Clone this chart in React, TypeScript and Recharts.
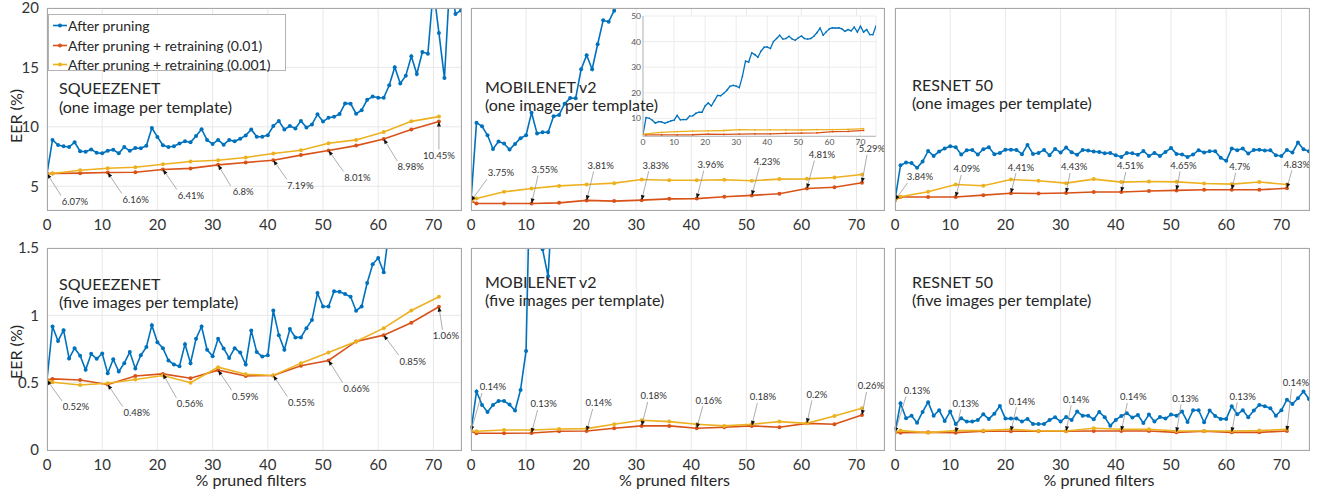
import React from "react";
import { LineChart, Line, XAxis, YAxis, CartesianGrid, ReferenceDot } from "recharts";

const FONT = "Lato, 'Open Sans', sans-serif";
const BLUE = "#0072BD";
const RED = "#D95319";
const YELLOW = "#EDB120";
const TEXT = "#262626";

// x positions
const pruneSteps = Array.from({ length: 76 }, (_, i) => i);
const retrainX = [0, 1, 6, 11, 16, 21, 26, 31, 36, 41, 46, 51, 56, 61, 66, 71];
const annoX = [0, 11, 21, 31, 41, 51, 61, 71];
const xTicks = [0, 10, 20, 30, 40, 50, 60, 70];
const topYTicks = [5, 10, 15, 20];
const bottomYTicks = [0, 0.5, 1, 1.5];
const insetYTicks = [10, 20, 30, 40, 50];

const legendNames = ["After pruning", "After pruning + retraining (0.01)", "After pruning + retraining (0.001)"];

// SQUEEZENET, one image per template
const sqOneBlue = [6.07, 8.9, 8.47, 8.36, 8.3, 8.7, 7.95, 7.9, 8.1, 7.82, 7.77, 7.98, 8.08, 7.77, 8.3, 7.98, 8.22, 8.2, 8.4, 9.9, 9.15, 8.45, 8.3, 8.36, 8.6, 8.78, 8.7, 9.22, 9.8, 8.9, 8.55, 8.9, 8.5, 8.9, 8.78, 9.0, 9.28, 9.78, 9.17, 9.17, 9.3, 10.07, 10.49, 9.78, 10.07, 9.86, 10.5, 9.95, 10.2, 11.05, 10.44, 10.77, 10.85, 11.07, 11.97, 11.95, 11.1, 11.4, 12.27, 12.55, 12.45, 12.45, 13.5, 15.02, 13.65, 14.3, 15.94, 14.45, 16.3, 16.15, 21.65, 17.9, 14.1, 22.5, 19.5, 19.8];
const sqOneRed = [6.07, 6.07, 6.1, 6.16, 6.18, 6.41, 6.5, 6.8, 7.0, 7.19, 7.62, 8.01, 8.42, 8.98, 9.77, 10.45];
const sqOneYellow = [6.07, 6.07, 6.35, 6.52, 6.6, 6.85, 7.08, 7.19, 7.42, 7.75, 8.03, 8.62, 8.9, 9.57, 10.46, 10.86];
const sqOneLabels = ["6.07%", "6.16%", "6.41%", "6.8%", "7.19%", "8.01%", "8.98%", "10.45%"];

// MOBILENET v2, one image per template
const mbOneBlue = [3.78, 10.35, 10.04, 9.29, 8.14, 8.76, 8.59, 8.09, 8.56, 9.04, 9.29, 11.19, 9.43, 9.54, 9.54, 10.9, 11.0, 11.95, 12.42, 12.4, 14.85, 16.02, 14.85, 16.95, 18.96, 18.85, 19.77, 21.0, 22.5, 22.9, 22.6, 22.0, 26.4, 32.4, 32.0, 35.6, 34.9, 33.9, 36.3, 37.8, 37.9, 37.3, 40.0, 41.2, 42.5, 41.0, 41.2, 42.1, 41.0, 40.5, 41.5, 42.2, 41.2, 41.0, 41.2, 42.1, 43.5, 45.3, 42.5, 43.8, 45.0, 45.4, 45.3, 45.4, 45.0, 44.0, 44.7, 44.2, 45.7, 43.7, 46.0, 43.7, 44.7, 42.7, 42.7, 46.1];
const mbOneRed = [3.75, 3.55, 3.55, 3.55, 3.6, 3.81, 3.75, 3.83, 3.94, 3.96, 4.11, 4.23, 4.37, 4.81, 4.92, 5.29];
const mbOneYellow = [3.75, 3.97, 4.53, 4.81, 5.03, 5.14, 5.26, 5.57, 5.51, 5.51, 5.54, 5.46, 5.6, 5.62, 5.74, 5.99];
const mbOneLabels = ["3.75%", "3.55%", "3.81%", "3.83%", "3.96%", "4.23%", "4.81%", "5.29%"];

// RESNET 50, one image per template
const rnOneBlue = [3.84, 6.77, 7.0, 6.95, 6.55, 7.08, 7.97, 7.55, 7.92, 8.17, 8.37, 8.29, 7.67, 8.03, 8.06, 7.67, 8.11, 8.29, 7.7, 7.8, 8.08, 8.08, 8.06, 7.7, 8.48, 7.72, 7.8, 8.06, 7.61, 8.14, 7.83, 8.25, 7.86, 7.64, 8.06, 8.0, 7.92, 7.89, 7.78, 7.8, 7.61, 7.47, 7.8, 7.78, 7.64, 7.97, 7.55, 7.8, 7.55, 7.89, 8.22, 7.72, 7.67, 7.47, 7.67, 8.03, 7.83, 7.94, 7.94, 7.39, 7.14, 8.17, 8.03, 8.17, 7.75, 8.06, 8.08, 8.0, 8.03, 7.61, 7.55, 8.06, 7.83, 8.68, 8.11, 7.94];
const rnOneRed = [3.84, 4.09, 4.09, 4.09, 4.25, 4.41, 4.39, 4.43, 4.52, 4.51, 4.6, 4.65, 4.7, 4.7, 4.7, 4.83];
const rnOneYellow = [3.84, 4.12, 4.53, 5.15, 5.04, 5.57, 5.46, 5.26, 5.6, 5.35, 5.4, 5.37, 5.23, 5.18, 5.35, 5.15];
const rnOneLabels = ["3.84%", "4.09%", "4.41%", "4.43%", "4.51%", "4.65%", "4.7%", "4.83%"];

// SQUEEZENET, five images per template
const sqFiveBlue = [0.52, 0.917, 0.81, 0.89, 0.68, 0.756, 0.7, 0.595, 0.714, 0.677, 0.717, 0.57, 0.674, 0.583, 0.645, 0.727, 0.605, 0.704, 0.764, 0.927, 0.8, 0.756, 0.665, 0.635, 0.622, 0.786, 0.645, 0.826, 0.917, 0.744, 0.697, 0.826, 0.754, 0.684, 0.756, 0.724, 0.635, 0.888, 0.727, 0.694, 0.704, 1.036, 0.853, 0.744, 0.898, 0.836, 0.836, 0.905, 0.965, 1.165, 1.066, 1.066, 1.178, 1.175, 1.158, 1.138, 1.034, 1.066, 1.24, 1.379, 1.426, 1.32, 1.64, 1.95, 1.78, 1.86, 2.05, 1.9, 2.1, 2.1, 2.6, 2.3, 1.85, 2.7, 2.5, 2.5];
const sqFiveRed = [0.52, 0.528, 0.52, 0.486, 0.55, 0.565, 0.533, 0.593, 0.55, 0.553, 0.625, 0.665, 0.806, 0.853, 0.945, 1.064];
const sqFiveYellow = [0.52, 0.503, 0.483, 0.496, 0.523, 0.553, 0.5, 0.615, 0.563, 0.553, 0.645, 0.724, 0.806, 0.905, 1.036, 1.138];
const sqFiveLabels = ["0.52%", "0.48%", "0.56%", "0.59%", "0.55%", "0.66%", "0.85%", "1.06%"];

// MOBILENET v2, five images per template
const mbFiveBlue = [0.141, 0.434, 0.335, 0.283, 0.335, 0.364, 0.364, 0.337, 0.293, 0.446, 0.736, 2.6, 2.2, 1.49, 1.29, 2.0, 2.5, 3.0];
const mbFiveRed = [0.141, 0.124, 0.124, 0.126, 0.139, 0.141, 0.161, 0.179, 0.179, 0.161, 0.169, 0.179, 0.169, 0.198, 0.191, 0.26];
const mbFiveYellow = [0.141, 0.139, 0.149, 0.149, 0.156, 0.159, 0.191, 0.221, 0.211, 0.191, 0.179, 0.191, 0.211, 0.198, 0.253, 0.31];
const mbFiveLabels = ["0.14%", "0.13%", "0.14%", "0.18%", "0.16%", "0.18%", "0.2%", "0.26%"];

// RESNET 50, five images per template
const rnFiveBlue = [0.131, 0.347, 0.236, 0.255, 0.203, 0.283, 0.355, 0.255, 0.295, 0.216, 0.285, 0.193, 0.236, 0.211, 0.211, 0.223, 0.265, 0.231, 0.27, 0.327, 0.233, 0.233, 0.233, 0.211, 0.231, 0.193, 0.193, 0.193, 0.223, 0.243, 0.211, 0.245, 0.223, 0.285, 0.255, 0.255, 0.228, 0.283, 0.243, 0.181, 0.223, 0.253, 0.273, 0.241, 0.26, 0.2, 0.263, 0.211, 0.245, 0.233, 0.263, 0.255, 0.285, 0.208, 0.295, 0.295, 0.206, 0.293, 0.253, 0.231, 0.231, 0.325, 0.265, 0.295, 0.243, 0.293, 0.335, 0.325, 0.31, 0.255, 0.295, 0.374, 0.342, 0.384, 0.434, 0.379];
const rnFiveRed = [0.131, 0.129, 0.131, 0.129, 0.139, 0.139, 0.139, 0.139, 0.141, 0.141, 0.141, 0.131, 0.139, 0.131, 0.131, 0.141];
const rnFiveYellow = [0.131, 0.144, 0.129, 0.144, 0.144, 0.154, 0.141, 0.141, 0.161, 0.154, 0.154, 0.141, 0.141, 0.141, 0.144, 0.154];
const rnFiveLabels = ["0.13%", "0.13%", "0.14%", "0.14%", "0.14%", "0.13%", "0.13%", "0.14%"];

// label offsets (px) from the annotated point
const offBelow = [[28, 28], [28, 27], [28, 26], [25, 27], [27, 25], [29, 27], [27, 28], [0, 34]];
const offMbOne = [[30, -28], [13, -34], [14, -35], [14, -35], [14, -34], [15, -34], [15, -34], [10, -34]];
const offRnOne = [[25, -23], [11, -28], [10, -26], [8, -26], [9, -26], [7, -25], [8, -23], [10, -24]];
const offSqFive = [[29, 27], [29, 28], [27, 30], [27, 26], [28, 27], [28, 28], [29, 26], [7, 29]];
const offMbFive = [[22, -44], [12, -29], [12, -28], [12, -30], [12, -28], [11, -29], [10, -29], [9, -29]];
const offRnFive = [[22, -42], [10, -29], [11, -30], [10, -32], [12, -34], [9, -34], [11, -36], [9, -48]];

const buildRows = (blue: number[], red: number[], yellow: number[]) =>
  pruneSteps.map((x) => {
    const k = retrainX.indexOf(x);
    return {
      x,
      blue: x < blue.length ? blue[x] : null,
      red: k >= 0 ? red[k] : null,
      yellow: k >= 0 ? yellow[k] : null,
    };
  });

const PLOT_H = 202;
const Y_W = 47;
const M_TOP = 12;
const M_RIGHT = 24;

const Annotation = ({ cx, cy, text, dx, dy }: any) => {
  const tx = cx + dx;
  const ty = cy + dy;
  const ax = tx - Math.min(Math.abs(dx) * 0.5, 14);
  const ay = ty - Math.sign(dy) * 6;
  const ang = Math.atan2(cy - ay, cx - ax);
  const hl = 5;
  const hw = 2;
  const bx = cx - hl * Math.cos(ang);
  const by = cy - hl * Math.sin(ang);
  const px = -Math.sin(ang) * hw;
  const py = Math.cos(ang) * hw;
  return (
    <g>
      <line x1={ax} y1={ay} x2={bx} y2={by} stroke="#8a8a8a" strokeWidth={0.7} />
      <polygon points={`${cx},${cy} ${bx + px},${by + py} ${bx - px},${by - py}`} fill="#111" />
      <text x={tx} y={ty + 3.4} textAnchor="middle" fontSize={9.5} fill="#333" fontFamily={FONT}>
        {text}
      </text>
    </g>
  );
};

interface PanelProps {
  left: number;
  top: number;
  width: number;
  blue: number[];
  red: number[];
  yellow: number[];
  yDomain: [number, number];
  yTicks: number[];
  showY: boolean;
  labels: string[];
  offsets: number[][];
  axisH: number;
}

const Panel = (p: PanelProps) => {
  const rows = buildRows(p.blue, p.red, p.yellow);
  const tick = { fontSize: 15, fill: "#333", fontFamily: FONT };
  return (
    <div style={{ position: "absolute", left: p.left - Y_W, top: p.top - M_TOP }}>
      <LineChart
        width={Y_W + p.width + M_RIGHT}
        height={M_TOP + PLOT_H + p.axisH}
        data={rows}
        margin={{ top: M_TOP, right: M_RIGHT, left: 0, bottom: 0 }}
      >
        <CartesianGrid stroke="#e8e8e8" />
        <XAxis
          dataKey="x"
          type="number"
          domain={[0, 75]}
          ticks={xTicks}
          interval={0}
          allowDataOverflow
          tickLine={false}
          axisLine={false}
          tickSize={0}
          tickMargin={9}
          height={p.axisH}
          tick={tick}
        />
        <YAxis
          type="number"
          domain={p.yDomain}
          ticks={p.yTicks}
          interval={0}
          allowDataOverflow
          width={Y_W}
          tickLine={false}
          axisLine={false}
          tickSize={0}
          tickMargin={8}
          tick={p.showY ? tick : false}
        />
        <Line dataKey="blue" stroke={BLUE} strokeWidth={1.6} dot={{ r: 2, fill: BLUE, stroke: BLUE, strokeWidth: 0 }} isAnimationActive={false} />
        <Line dataKey="red" connectNulls stroke={RED} strokeWidth={1.6} dot={{ r: 2, fill: RED, stroke: RED, strokeWidth: 0 }} isAnimationActive={false} />
        <Line dataKey="yellow" connectNulls stroke={YELLOW} strokeWidth={1.6} dot={{ r: 2, fill: YELLOW, stroke: YELLOW, strokeWidth: 0 }} isAnimationActive={false} />
        {annoX.map((ax, i) => (
          <ReferenceDot
            key={ax}
            x={ax}
            y={p.red[retrainX.indexOf(ax)]}
            r={0}
            ifOverflow="visible"
            shape={(s: any) => <Annotation cx={s.cx} cy={s.cy} text={p.labels[i]} dx={p.offsets[i][0]} dy={p.offsets[i][1]} />}
          />
        ))}
      </LineChart>
    </div>
  );
};

const Box = ({ left, top, width }: { left: number; top: number; width: number }) => (
  <div
    style={{
      position: "absolute",
      left: left - 0.5,
      top: top - 0.5,
      width: width + 1,
      height: PLOT_H + 1,
      boxSizing: "border-box",
      border: "1px solid #a8a8a8",
      pointerEvents: "none",
    }}
  />
);

const Inset = () => {
  const rows = buildRows(mbOneBlue, mbOneRed, mbOneYellow);
  const tick = { fontSize: 8.5, fill: "#555", fontFamily: FONT };
  return (
    <div style={{ position: "absolute", left: 643.3 - 20, top: 15.7 - 6 }}>
      <LineChart width={20 + 233 + 6} height={6 + 120.3 + 14} data={rows} margin={{ top: 6, right: 6, left: 0, bottom: 0 }}>
        <CartesianGrid fill="#fff" fillOpacity={1} stroke="#ececec" />
        <XAxis
          dataKey="x"
          type="number"
          domain={[0, 75]}
          ticks={xTicks}
          interval={0}
          allowDataOverflow
          tickLine={false}
          axisLine={{ stroke: "#b8b8b8" }}
          tickSize={0}
          tickMargin={3}
          height={14}
          tick={tick}
        />
        <YAxis
          type="number"
          domain={[3, 50]}
          ticks={insetYTicks}
          interval={0}
          allowDataOverflow
          width={20}
          tickLine={false}
          axisLine={{ stroke: "#b8b8b8" }}
          tickSize={0}
          tickMargin={2}
          tick={tick}
        />
        <Line dataKey="blue" stroke={BLUE} strokeWidth={1.3} dot={{ r: 0.8, fill: BLUE, stroke: BLUE, strokeWidth: 0 }} isAnimationActive={false} />
        <Line dataKey="red" connectNulls stroke={RED} strokeWidth={1.3} dot={{ r: 0.9, fill: RED, stroke: RED, strokeWidth: 0 }} isAnimationActive={false} />
        <Line dataKey="yellow" connectNulls stroke={YELLOW} strokeWidth={1.3} dot={{ r: 0.9, fill: YELLOW, stroke: YELLOW, strokeWidth: 0 }} isAnimationActive={false} />
      </LineChart>
    </div>
  );
};

const legendColors = [BLUE, RED, YELLOW];

const Legend = () => (
  <div
    style={{
      position: "absolute",
      left: 48,
      top: 14,
      width: 238,
      height: 57,
      boxSizing: "border-box",
      border: "1px solid #b4b4b4",
      background: "#fff",
      fontFamily: FONT,
      fontSize: 14,
      color: TEXT,
    }}
  >
    {legendNames.map((name, i) => (
      <div key={name} style={{ position: "absolute", left: 4, top: 1.2 + i * 19.3, height: 19, display: "flex", alignItems: "center" }}>
        <svg width={14} height={19}>
          <line x1={0} y1={9.5} x2={14} y2={9.5} stroke={legendColors[i]} strokeWidth={1.6} />
          <circle cx={7} cy={9.5} r={2} fill={legendColors[i]} />
        </svg>
        <span style={{ marginLeft: 1, whiteSpace: "nowrap" }}>{name}</span>
      </div>
    ))}
  </div>
);

const titles = [
  { x: 59, y: 94.3, a: "SQUEEZENET", b: "(one image per template)" },
  { x: 485, y: 92.7, a: "MOBILENET v2", b: "(one image per template)" },
  { x: 912, y: 91, a: "RESNET 50", b: "(one images per template)" },
  { x: 59, y: 290, a: "SQUEEZENET", b: "(five images per template)" },
  { x: 485, y: 288, a: "MOBILENET v2", b: "(five images per template)" },
  { x: 912, y: 288, a: "RESNET 50", b: "(five images per template)" },
];

const cols = [
  { left: 47, width: 414 },
  { left: 471, width: 413 },
  { left: 895, width: 414 },
];
const rowTops = [8, 248];

export default function App() {
  return (
    <div style={{ position: "absolute", left: 0, top: 0, width: 1319, height: 496, background: "#fff", overflow: "hidden" }}>
      <Panel left={cols[0].left} top={rowTops[0]} width={cols[0].width} blue={sqOneBlue} red={sqOneRed} yellow={sqOneYellow} yDomain={[3, 20]} yTicks={topYTicks} showY labels={sqOneLabels} offsets={offBelow} axisH={34} />
      <Panel left={cols[1].left} top={rowTops[0]} width={cols[1].width} blue={mbOneBlue} red={mbOneRed} yellow={mbOneYellow} yDomain={[3, 20]} yTicks={topYTicks} showY={false} labels={mbOneLabels} offsets={offMbOne} axisH={34} />
      <Panel left={cols[2].left} top={rowTops[0]} width={cols[2].width} blue={rnOneBlue} red={rnOneRed} yellow={rnOneYellow} yDomain={[3, 20]} yTicks={topYTicks} showY={false} labels={rnOneLabels} offsets={offRnOne} axisH={34} />
      <Panel left={cols[0].left} top={rowTops[1]} width={cols[0].width} blue={sqFiveBlue} red={sqFiveRed} yellow={sqFiveYellow} yDomain={[0, 1.5]} yTicks={bottomYTicks} showY labels={sqFiveLabels} offsets={offSqFive} axisH={40} />
      <Panel left={cols[1].left} top={rowTops[1]} width={cols[1].width} blue={mbFiveBlue} red={mbFiveRed} yellow={mbFiveYellow} yDomain={[0, 1.5]} yTicks={bottomYTicks} showY={false} labels={mbFiveLabels} offsets={offMbFive} axisH={40} />
      <Panel left={cols[2].left} top={rowTops[1]} width={cols[2].width} blue={rnFiveBlue} red={rnFiveRed} yellow={rnFiveYellow} yDomain={[0, 1.5]} yTicks={bottomYTicks} showY={false} labels={rnFiveLabels} offsets={offRnFive} axisH={40} />
      {rowTops.map((t) => cols.map((c) => <Box key={`${t}-${c.left}`} left={c.left} top={t} width={c.width} />))}
      <Inset />
      <Legend />
      <svg width={1319} height={496} style={{ position: "absolute", left: 0, top: 0, pointerEvents: "none" }}>
        {titles.map((t, i) => (
          <g key={i} fontFamily={FONT} fontSize={16} fill={TEXT}>
            <text x={t.x} y={t.y}>{t.a}</text>
            <text x={t.x} y={t.y + 18.4}>{t.b}</text>
          </g>
        ))}
        {[116, 352].map((cy) => (
          <text key={cy} transform={`translate(22,${cy}) rotate(-90)`} textAnchor="middle" fontFamily={FONT} fontSize={16} fill={TEXT}>
            EER (%)
          </text>
        ))}
        {cols.map((c) => (
          <text key={c.left} x={c.left + c.width / 2 - 3} y={486} textAnchor="middle" fontFamily={FONT} fontSize={16} fill={TEXT}>
            % pruned filters
          </text>
        ))}
      </svg>
    </div>
  );
}
